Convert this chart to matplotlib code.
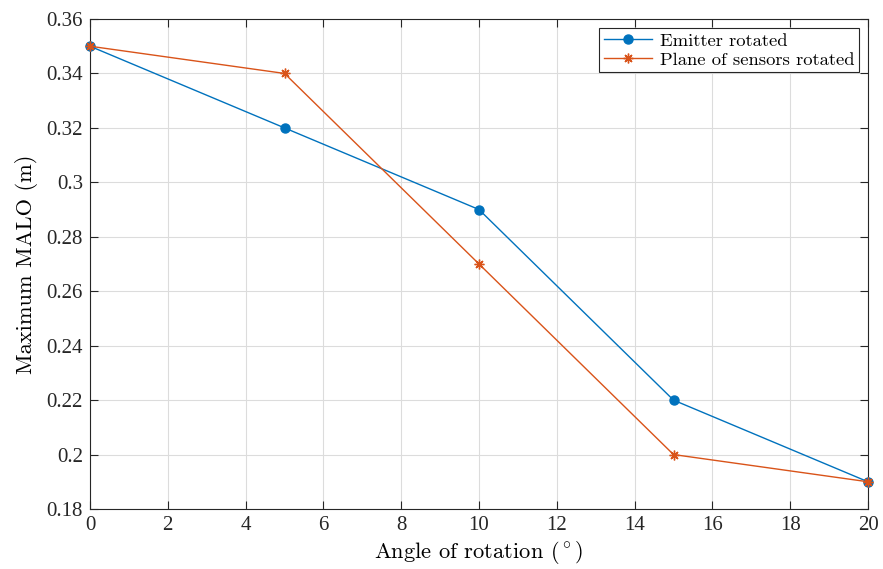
import matplotlib
matplotlib.use("Agg")
import matplotlib.pyplot as plt

plt.rcParams['mathtext.fontset'] = 'cm'
plt.rcParams['axes.unicode_minus'] = False

# Data
angles = [0, 5, 10, 15, 20]
emitter_rotated = [0.35, 0.32, 0.29, 0.22, 0.19]
plane_rotated = [0.35, 0.34, 0.27, 0.20, 0.19]

blue = '#0072BD'
orange = '#D95319'

fig = plt.figure(figsize=(8.83, 5.69), dpi=100)
ax = fig.add_axes([90 / 883, 1 - 509 / 569, (868 - 90) / 883, (509 - 19) / 569])

ax.plot(angles, emitter_rotated, '-o', color=blue, lw=1.0, ms=6.5,
        label='Emitter rotated', clip_on=False, zorder=3)
ax.plot(angles, plane_rotated, '-', marker=(8, 2, 0), color=orange, lw=1.0,
        ms=7, mew=1.0, label='Plane of sensors rotated', clip_on=False,
        zorder=4)

ax.set_xlim(0, 20)
ax.set_ylim(0.18, 0.36)
ax.set_xticks(range(0, 21, 2))
ax.set_yticks([0.18, 0.2, 0.22, 0.24, 0.26, 0.28, 0.3, 0.32, 0.34, 0.36])
ax.set_yticklabels(['0.18', '0.2', '0.22', '0.24', '0.26', '0.28', '0.3',
                    '0.32', '0.34', '0.36'])

for lbl in ax.get_xticklabels() + ax.get_yticklabels():
    lbl.set_family('Liberation Serif')
    lbl.set_fontsize(15)
    lbl.set_color('#262626')

ax.tick_params(direction='in', top=True, right=True, length=6, width=0.8,
               colors='#262626', pad=5)
ax.grid(True, color='#dcdcdc', lw=0.8)
ax.set_axisbelow(True)
for s in ax.spines.values():
    s.set_color('#262626')
    s.set_linewidth(0.8)

ax.set_xlabel(r'Angle of rotation $(^\circ)$', family='cmr10', fontsize=16.2,
              labelpad=3)
ax.set_ylabel('Maximum MALO (m)', family='cmr10', fontsize=16.2, labelpad=6)

leg = ax.legend(loc='upper right', prop={'family': 'cmr10', 'size': 13.4},
                fancybox=False, edgecolor='#262626', framealpha=1,
                borderaxespad=0.5, handlelength=2.6, borderpad=0.25,
                labelspacing=0.15, handletextpad=0.4)
leg.get_frame().set_linewidth(0.8)

fig.savefig('out.png', dpi=100)
